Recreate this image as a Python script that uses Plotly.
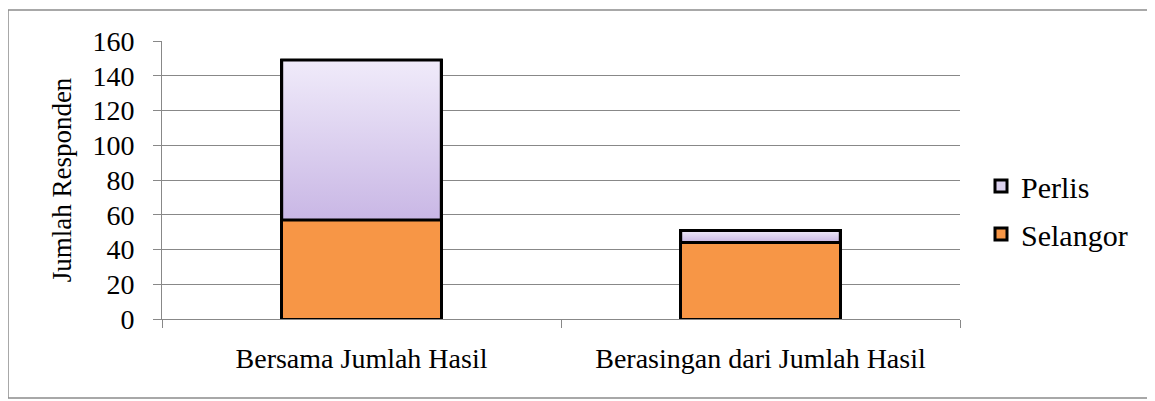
import plotly.graph_objects as go

categories = ["Bersama Jumlah Hasil", "Berasingan dari Jumlah Hasil"]
selangor = [57, 44]
perlis = [92, 7]
y_ticks = [0, 20, 40, 60, 80, 100, 120, 140, 160]

FONT = "Liberation Serif"
ORANGE = "#F79646"
LAV_MID = "#DCD2EF"
BAR_W = 0.4
xpos = list(range(len(categories)))

# plot area in figure pixels
L, R, T, B = 154, 952, 33, 311
W, H = 1155, 401
PW, PH = R - L, B - T

fig = go.Figure()
fig.add_trace(go.Bar(x=xpos, y=selangor, name="Selangor", width=BAR_W,
                     legendgroup="s", legendrank=2,
                     marker=dict(color=ORANGE, line=dict(color="black", width=3))))
fig.add_trace(go.Bar(x=xpos, y=perlis, name="Perlis", width=BAR_W,
                     legendgroup="p", legendrank=1,
                     marker=dict(color=LAV_MID, line=dict(color="black", width=3))))

# gradient overlay for Perlis segments (derived from data)
for i, x in enumerate(xpos):
    base = selangor[i]
    top = selangor[i] + perlis[i]
    xl, xr = x - BAR_W / 2, x + BAR_W / 2
    fig.add_trace(go.Scatter(
        x=[xl, xr, xr, xl, xl], y=[base, base, top, top, base],
        mode="lines", fill="toself", showlegend=False, hoverinfo="skip",
        line=dict(color="black", width=3),
        fillgradient=dict(type="vertical",
                          colorscale=[[0, "#C9B7E5"], [1, "#F0EBFA"]]),
    ))

fig.update_layout(
    barmode="stack",
    width=W, height=H,
    margin=dict(l=L, r=W - R, t=T, b=H - B),
    paper_bgcolor="white", plot_bgcolor="white",
    font=dict(family=FONT, size=28, color="black"),
    legend=dict(x=(973 - L) / PW, y=(B - 202) / PH, xanchor="left", yanchor="middle",
                traceorder="grouped", font=dict(size=30),
                itemwidth=30, tracegroupgap=6),
    showlegend=True,
)
fig.update_xaxes(
    range=[-0.5, 1.5], tickvals=xpos, ticktext=categories,
    ticks="", showgrid=False, showline=True, linecolor="#888888", linewidth=1,
    ticklabelstandoff=14, zeroline=False, tickfont=dict(size=28),
    minor=dict(tick0=-0.5, dtick=1, ticks="outside", ticklen=8,
               tickcolor="#888888", showgrid=False),
)
fig.update_yaxes(
    range=[0, 160], tickvals=y_ticks, ticks="outside", ticklen=8,
    tickcolor="#888888", showgrid=True, gridcolor="#888888", gridwidth=1,
    showline=True, linecolor="#888888", linewidth=1, zeroline=False,
    ticklabelstandoff=13, tickfont=dict(size=28),
    title=dict(text="Jumlah Responden", font=dict(size=27), standoff=12),
)
fig.add_shape(type="rect", xref="paper", yref="paper",
              x0=(0 - L) / PW, x1=(1144 - L) / PW,
              y0=(B - 390) / PH, y1=(B - 2) / PH,
              line=dict(color="#8c8c8c", width=1.5), layer="below")

fig.write_html("out.html")
